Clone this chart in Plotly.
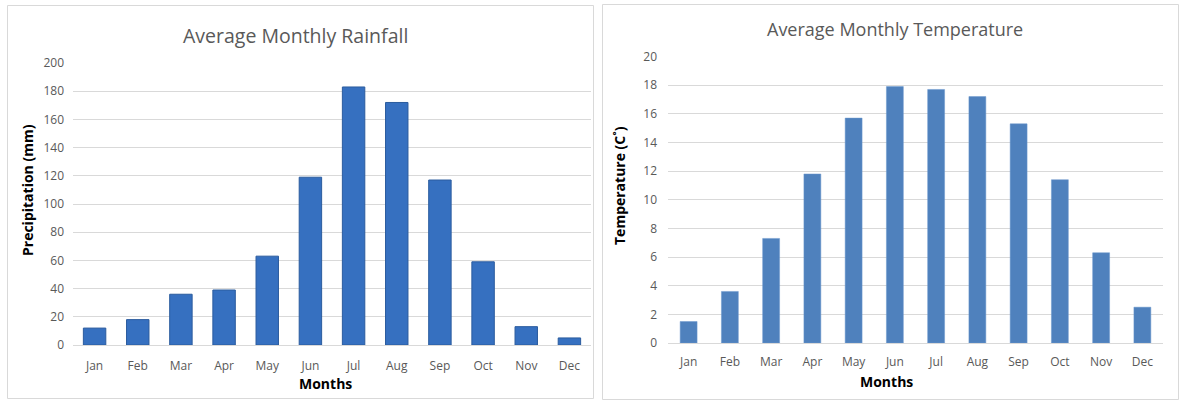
import plotly.graph_objects as go

months = ["Jan", "Feb", "Mar", "Apr", "May", "Jun", "Jul", "Aug", "Sep", "Oct", "Nov", "Dec"]
rainfall = [12, 18, 36, 39, 63, 119, 183, 172, 117, 59, 13, 5]
temperature = [1.5, 3.6, 7.3, 11.8, 15.7, 17.9, 17.7, 17.2, 15.3, 11.4, 6.3, 2.5]
rain_ticks = [0, 20, 40, 60, 80, 100, 120, 140, 160, 180, 200]
temp_ticks = [0, 2, 4, 6, 8, 10, 12, 14, 16, 18, 20]

W, H = 1181, 403
FONT = "Open Sans"
TICK = "#595959"
GRID = "#d9d9d9"

def px(x):
    return x / W

def py(y):
    return 1 - y / H

fig = go.Figure()
fig.add_trace(go.Bar(x=months, y=rainfall, xaxis="x", yaxis="y", width=0.52,
                     marker=dict(color="#3670c0", line=dict(color="#2b5c9e", width=1))))
fig.add_trace(go.Bar(x=months, y=temperature, xaxis="x2", yaxis="y2", width=0.41,
                     marker=dict(color="#4f81bd", line=dict(color="#6b96cc", width=0.5))))

common_x = dict(showgrid=False, showline=True, linecolor=GRID, linewidth=1, ticks="", automargin=False,
                tickfont=dict(family=FONT, size=12, color=TICK), fixedrange=True)
common_y = dict(showgrid=True, gridcolor=GRID, gridwidth=1, zeroline=False, showline=False, automargin=False,
                tickfont=dict(family=FONT, size=12, color=TICK), ticks="")

fig.update_layout(
    template="none",
    width=W, height=H, margin=dict(l=0, r=0, t=0, b=0, pad=0, autoexpand=False),
    paper_bgcolor="white", plot_bgcolor="white", showlegend=False,
    xaxis=dict(domain=[px(73), px(591)], anchor="y", ticklabelstandoff=10, **common_x),
    yaxis=dict(domain=[py(345), py(63)], anchor="x", range=[0, 200], tickvals=rain_ticks,
               ticklabelstandoff=8, **common_y),
    xaxis2=dict(domain=[px(668), px(1163)], anchor="y2", ticklabelstandoff=8, **common_x),
    yaxis2=dict(domain=[py(343), py(56.5)], anchor="x2", range=[0, 20], tickvals=temp_ticks,
                ticklabelstandoff=10, **common_y),
    shapes=[
        dict(type="rect", xref="paper", yref="paper", x0=px(7.5), x1=px(593.5), y0=py(398.5), y1=py(5.5),
             line=dict(color=GRID, width=1), fillcolor="rgba(0,0,0,0)", layer="below"),
        dict(type="rect", xref="paper", yref="paper", x0=px(602.5), x1=px(1178.5), y0=py(399.5), y1=py(4.5),
             line=dict(color=GRID, width=1), fillcolor="rgba(0,0,0,0)", layer="below"),
    ],
    annotations=[
        dict(text="Average Monthly Rainfall", x=px(295), y=py(35), xref="paper", yref="paper",
             xanchor="center", yanchor="middle",
             showarrow=False, font=dict(family=FONT, size=19.5, color=TICK)),
        dict(text="Average Monthly Temperature", x=px(895), y=py(29), xref="paper", yref="paper",
             xanchor="center", yanchor="middle",
             showarrow=False, font=dict(family=FONT, size=18, color=TICK)),
        dict(text="<b>Months</b>", x=px(325), y=py(383), xref="paper", yref="paper",
             xanchor="center", yanchor="middle",
             showarrow=False, font=dict(family=FONT, size=14, color="black")),
        dict(text="<b>Months</b>", x=px(886), y=py(381), xref="paper", yref="paper",
             xanchor="center", yanchor="middle",
             showarrow=False, font=dict(family=FONT, size=14, color="black")),
        dict(text="<b>Precipitation (mm)</b>", x=px(27), y=py(190), xref="paper", yref="paper",
             xanchor="center", yanchor="middle",
             showarrow=False, textangle=-90, font=dict(family=FONT, size=14, color="black")),
        dict(text="<b>Temperature (C˚)</b>", x=px(619), y=py(186), xref="paper", yref="paper",
             xanchor="center", yanchor="middle",
             showarrow=False, textangle=-90, font=dict(family=FONT, size=14, color="black")),
    ],
)

fig.write_html("out.html")
